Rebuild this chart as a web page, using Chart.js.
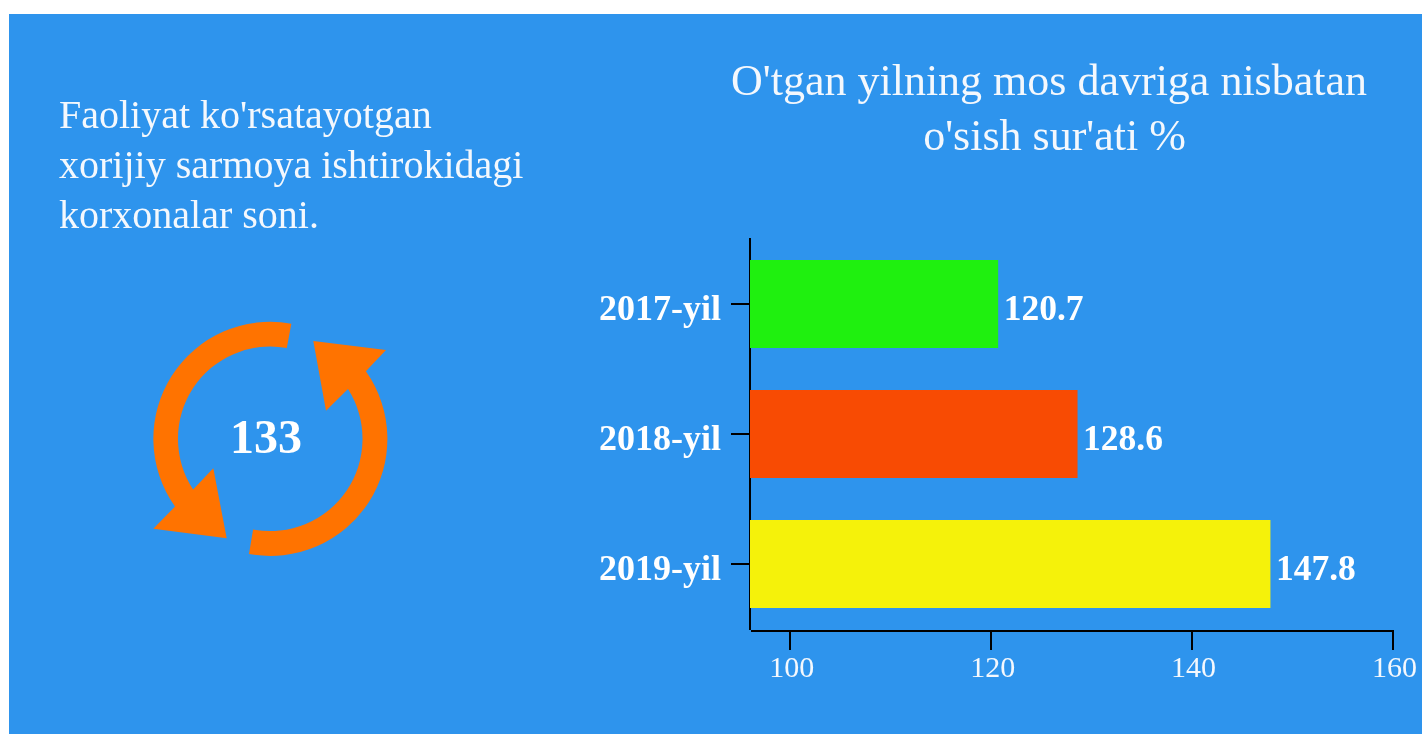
<!DOCTYPE html>
<html><head><meta charset="utf-8">
<style>
html,body{margin:0;padding:0;background:#fff;overflow:hidden}
#panel{position:absolute;left:9px;top:14px;width:1413px;height:720px;background:#2E94ED}
canvas{position:absolute;left:0;top:0}
.t{position:absolute;color:#fff;font-family:"Liberation Serif",serif;white-space:pre}
</style>
<script src="https://cdn.jsdelivr.net/npm/chart.js@4"></script>
</head><body>
<div id="panel"></div>
<canvas id="c" width="1422" height="734"></canvas>
<div class="t" id="left" style="left:59px;top:90px;font-size:40px;line-height:50px;color:#f4f8fd"></div>
<div class="t" id="title" style="left:649px;width:800px;top:53px;font-size:44px;line-height:55px;text-align:center;color:#f4f8fd"></div>
<div class="t" id="title2" style="left:654.5px;width:800px;top:108px;font-size:44px;line-height:55px;text-align:center;color:#f4f8fd"></div>
<svg style="position:absolute;left:0;top:0" width="1422" height="734">
<path fill="#FF7300" d="M291.35 323.7 A117 117 0 0 0 175 506.6 L153.3 528.7 L226.7 538.3 L213.3 468.3 L193.1 489.45 A92.3 92.3 0 0 1 286.8 348 Z"/>
<path fill="#FF7300" d="M249 553.9 A117 117 0 0 0 365.9 371.3 L386 350 L313.3 341 L326 410.7 L348 389.1 A92.3 92.3 0 0 1 253.1 529.5 Z"/>
</svg>
<div class="t" id="count" style="left:170px;width:192px;top:410px;font-size:48px;line-height:54px;text-align:center;font-weight:bold"></div>
<script>
const categories = ["2017-yil", "2018-yil", "2019-yil"];
const growthValues = [120.7, 128.6, 147.8];
const barColors = ["#1FF00F", "#F84B03", "#F5F20A"];
const xTicks = [100, 120, 140, 160];
const leftText = "Faoliyat ko'rsatayotgan\nxorijiy sarmoya ishtirokidagi\nkorxonalar soni.";
const titleLines = ["O'tgan yilning mos davriga nisbatan", "o'sish sur'ati %"];
const enterpriseCount = "133";

document.getElementById('left').textContent = leftText;
document.getElementById('title').textContent = titleLines[0];
document.getElementById('title2').textContent = titleLines[1];
document.getElementById('count').textContent = enterpriseCount;

const FONT = '"Liberation Serif", serif';
const valueLabels = {
  id: 'valueLabels',
  afterDatasetsDraw(chart) {
    const ctx = chart.ctx, meta = chart.getDatasetMeta(0);
    ctx.save();
    ctx.font = 'bold 35.5px ' + FONT;
    ctx.fillStyle = '#fff';
    ctx.textAlign = 'left';
    ctx.textBaseline = 'middle';
    meta.data.forEach((el, i) => ctx.fillText(growthValues[i].toFixed(1), el.x + 5.5, el.y + 7));
    ctx.restore();
  }
};
const axisLines = {
  id: 'axisLines',
  afterDraw(chart) {
    const ctx = chart.ctx, a = chart.chartArea, sx = chart.scales.x;
    ctx.save();
    ctx.strokeStyle = '#000';
    ctx.lineWidth = 2;
    ctx.beginPath();
    ctx.moveTo(a.left + 1, a.bottom + 2);
    ctx.lineTo(a.right + 1, a.bottom + 2);
    ctx.moveTo(a.left, a.top - 1);
    ctx.lineTo(a.left, a.top + 1);
    xTicks.forEach(v => {
      const px = Math.round(sx.getPixelForValue(v));
      ctx.moveTo(px, a.bottom + 2);
      ctx.lineTo(px, a.bottom + 21);
    });
    ctx.stroke();
    ctx.restore();
  }
};
new Chart(document.getElementById('c'), {
  type: 'bar',
  data: { labels: categories, datasets: [{ data: growthValues, backgroundColor: barColors,
    borderWidth: 0, categoryPercentage: 1, barPercentage: 0.677 }] },
  options: {
    indexAxis: 'y', responsive: false, animation: false,
    layout: { padding: { top: 239, right: 29, left: 0, bottom: 0 } },
    plugins: { legend: { display: false }, tooltip: { enabled: false } },
    scales: {
      x: {
        min: 96, max: 160,
        afterFit: s => { s.height = 105; },
        afterBuildTicks: s => { s.ticks = xTicks.map(v => ({ value: v })); },
        border: { display: false },
        grid: { drawOnChartArea: false, drawTicks: true, tickLength: 21, color: 'transparent', lineWidth: 2 },
        ticks: { color: '#f4f8fd', font: { family: FONT, size: 30 }, padding: 1, labelOffset: 1.5, maxRotation: 0, autoSkip: false }
      },
      y: {
        afterFit: s => { s.width = 750; },
        border: { color: '#000', width: 2 },
        grid: { offset: false, drawOnChartArea: false, drawTicks: true, tickLength: 19, color: '#000', lineWidth: 2 },
        ticks: { color: '#fff', font: { family: FONT, size: 36, weight: 'bold' }, padding: 10, labelOffset: 7 }
      }
    }
  },
  plugins: [valueLabels, axisLines]
});
</script>
</body></html>
